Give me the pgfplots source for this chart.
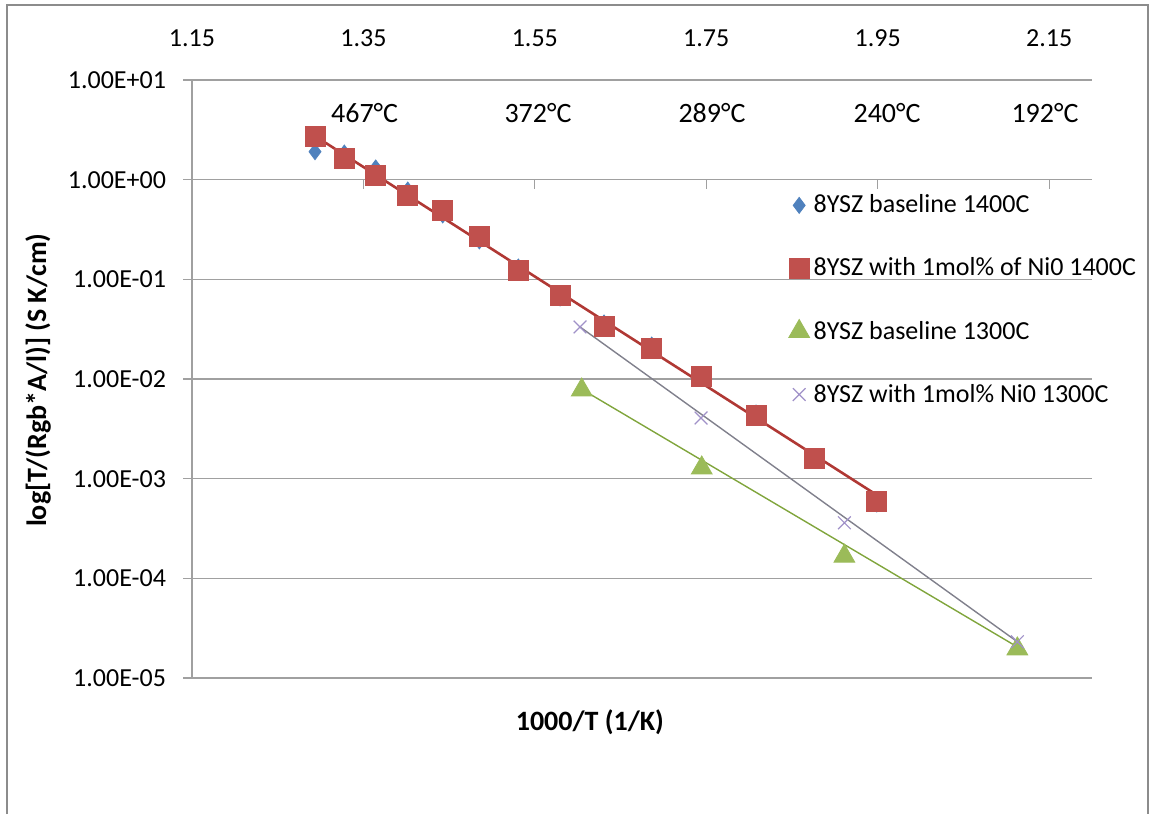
\documentclass[border=0pt]{standalone}
\usepackage{pgfplots}
\pgfplotsset{compat=1.18}
\usepackage{fontspec}
\setmainfont{Carlito}
\definecolor{gridgray}{RGB}{160,160,160}
\definecolor{framegray}{RGB}{140,140,140}
\definecolor{xlblue}{RGB}{79,129,189}
\definecolor{xlred}{RGB}{192,80,77}
\definecolor{xlredline}{RGB}{176,56,52}
\definecolor{xlgreen}{RGB}{155,187,89}
\definecolor{xlgreenline}{RGB}{128,165,60}
\definecolor{xlpurple}{RGB}{160,145,200}
\definecolor{xlgrayline}{RGB}{128,128,140}
\begin{document}
\begin{tikzpicture}
\path[use as bounding box] (0,0) rectangle (575.5pt,407pt);
\draw[framegray, line width=1pt] (3.5pt,0pt) -- (3.5pt,404.5pt) -- (574pt,404.5pt) -- (574pt,0pt);
\begin{axis}[
  at={(96pt,68pt)}, anchor=south west,
  scale only axis, width=450pt, height=299pt,
  xmin=1.15, xmax=2.2, ymode=log, log basis y=10, ymin=1e-5, ymax=10,
  axis x line*=top, axis y line*=left,
  x axis line style={draw=none},
  y axis line style={gridgray, -, line width=0.6pt},
  xtick={1.15,1.35,1.55,1.75,1.95,2.15},
  xticklabels={1.15,1.35,1.55,1.75,1.95,2.15},
  xtick style={draw=none},
  xticklabel style={font=\fontsize{13}{15}\selectfont, anchor=center, yshift=21pt},
  ytick={1e-5,1e-4,1e-3,1e-2,1e-1,1,10},
  yticklabels={1.00E-05,1.00E-04,1.00E-03,1.00E-02,1.00E-01,1.00E+00,1.00E+01},
  yminorticks=false,
  ytick align=outside, ytick style={gridgray, line width=0.6pt}, major tick length=4.5pt,
  yticklabel style={font=\fontsize{13}{15}\selectfont, xshift=-5pt},
  ymajorgrids, major grid style={gridgray, line width=0.6pt},
  xlabel={\textbf{1000/T (1/K)}},
  xlabel style={at={(axis description cs:0.442,-0.0736)}, anchor=center, font=\fontsize{14}{16}\selectfont},
  ylabel={\textbf{log[T/(Rgb*A/l)] (S K/cm)}},
  ylabel style={at={(axis description cs:-0.171,0.498)}, anchor=center, rotate=0, font=\fontsize{14}{16}\selectfont},
  legend image code/.code={\draw[#1] plot coordinates {(0.2cm,0cm)};},
  legend style={draw=none, fill=none, at={(axis description cs:0.656,0.822)}, anchor=north west,
    font=\fontsize{13}{15}\selectfont, row sep=17pt,
    /tikz/every even column/.append style={column sep=3pt}},
  legend cell align=left,
]
\addplot[only marks, mark=diamond*, mark size=4pt, color=xlblue] coordinates {
(1.2935,1.91) (1.3277,1.85) (1.3643,1.31) (1.4017,0.787) (1.4425,0.443) (1.4852,0.243)
(1.5307,0.133) (1.5794,0.065) (1.6307,0.0365) (1.6863,0.0219) (1.7447,0.0110)
(1.808,0.00456) (1.876,0.00165) (1.9489,0.000557)};
\addlegendentry{8YSZ baseline 1400C}
\addplot[only marks, mark=square*, mark size=5pt, color=xlred] coordinates {
(1.2935,2.74) (1.3277,1.64) (1.3643,1.11) (1.4017,0.690) (1.4425,0.489) (1.4852,0.272)
(1.5307,0.1227) (1.5794,0.0697) (1.6307,0.0340) (1.6863,0.0203) (1.7447,0.01072)
(1.808,0.00428) (1.876,0.00158) (1.9489,0.000587)};
\addlegendentry{8YSZ with 1mol\% of Ni0 1400C}
\addplot[only marks, mark=triangle*, mark size=6pt, color=xlgreen] coordinates {
(1.6047,0.00776) (1.7447,0.00128) (1.9111,0.000167) (2.1129,1.96e-5)};
\addlegendentry{8YSZ baseline 1300C}
\addplot[only marks, mark=x, mark size=4.5pt, color=xlpurple, mark options={line width=0.6pt}] coordinates {
(1.6027,0.0333) (1.7439,0.00406) (1.9111,0.000361) (2.1129,2.31e-5)};
\addlegendentry{8YSZ with 1mol\% Ni0 1300C}
\addplot[forget plot, no marks, color=xlredline, line width=1.3pt] coordinates {(1.2935,2.74) (1.9489,6.86e-4)};
\addplot[forget plot, no marks, color=xlgreenline, line width=0.7pt] coordinates {(1.6062,0.00776) (2.1129,2.05e-5)};
\addplot[forget plot, no marks, color=xlgrayline, line width=0.7pt] coordinates {(1.6027,0.0333) (2.1129,2.31e-5)};
\pgfplotsinvokeforeach{1.35,1.55,1.75,1.95,2.15}{
  \draw[gridgray, line width=0.6pt] (axis cs:#1,1) -- ([yshift=-4.5pt]axis cs:#1,1);
}
\node[font=\fontsize{14}{16}\selectfont] at (axis cs:1.3514,4.67) {467°C};
\node[font=\fontsize{14}{16}\selectfont] at (axis cs:1.5537,4.67) {372°C};
\node[font=\fontsize{14}{16}\selectfont] at (axis cs:1.7567,4.67) {289°C};
\node[font=\fontsize{14}{16}\selectfont] at (axis cs:1.9609,4.67) {240°C};
\node[font=\fontsize{14}{16}\selectfont] at (axis cs:2.1452,4.67) {192°C};
\end{axis}
\end{tikzpicture}
\end{document}
